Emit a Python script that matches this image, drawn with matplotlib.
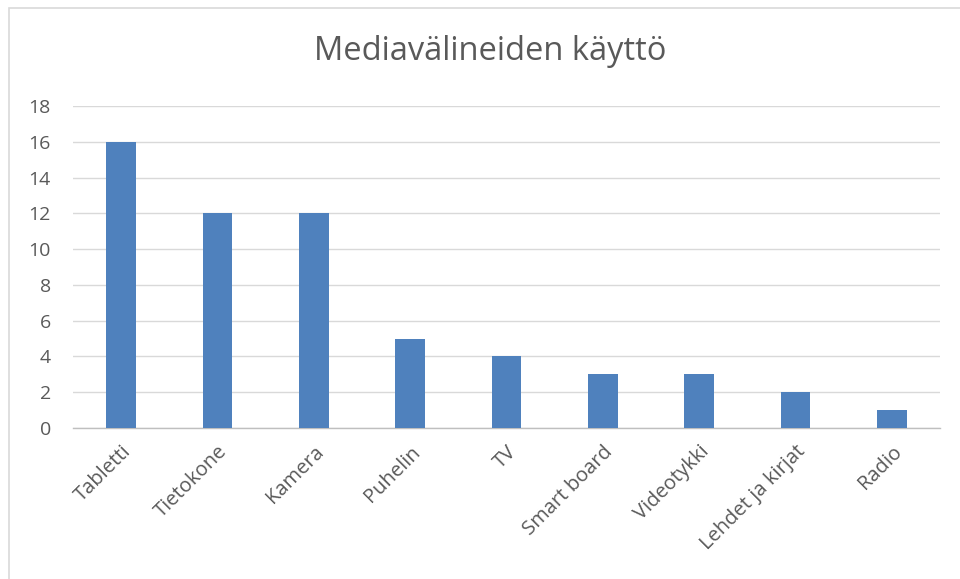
import matplotlib
matplotlib.use("Agg")
import matplotlib.pyplot as plt
from matplotlib.patches import Rectangle

categories = ["Tabletti", "Tietokone", "Kamera", "Puhelin", "TV",
              "Smart board", "Videotykki", "Lehdet ja kirjat", "Radio"]
values = [16, 12, 12, 5, 4, 3, 3, 2, 1]
yticks = [0, 2, 4, 6, 8, 10, 12, 14, 16, 18]

TEXT = "#595959"
BAR = "#4F81BD"

plt.rcParams["font.family"] = ["Open Sans", "DejaVu Sans"]

fig = plt.figure(figsize=(9.6, 5.79), dpi=100)
# outer chart border (only left/top visible in the crop)
fig.patches.append(Rectangle((9 / 960, -0.1), 1.2, 1 - 8 / 579 + 0.1,
                             transform=fig.transFigure, fill=False,
                             edgecolor="#D9D9D9", lw=1.2))

ax = fig.add_axes([73 / 960, 1 - 428 / 579, 867 / 960, 322 / 579])
x = range(len(categories))
ax.bar(x, values, width=0.31, color=BAR, zorder=3)
ax.set_xlim(-0.5, len(categories) - 0.5)
ax.set_ylim(0, 18)
ax.set_yticks(yticks)
ax.set_yticklabels([str(t) for t in yticks], color=TEXT, fontsize=14)
ax.set_xticks(list(x))
ax.set_xticklabels(categories, rotation=45, ha="right", rotation_mode="anchor",
                   color=TEXT, fontsize=14.5)
ax.tick_params(axis="both", length=0)
ax.tick_params(axis="y", pad=16)
ax.tick_params(axis="x", pad=10)
ax.grid(axis="y", color="#D9D9D9", lw=1, zorder=0)
for s in ["top", "right", "left"]:
    ax.spines[s].set_visible(False)
ax.spines["bottom"].set_color("#BFBFBF")
ax.spines["bottom"].set_linewidth(1)

fig.text(490 / 960, 1 - 52 / 579, "Mediavälineiden käyttö", ha="center",
         va="center", fontsize=23.5, color=TEXT)

fig.savefig("out.png", dpi=100)
